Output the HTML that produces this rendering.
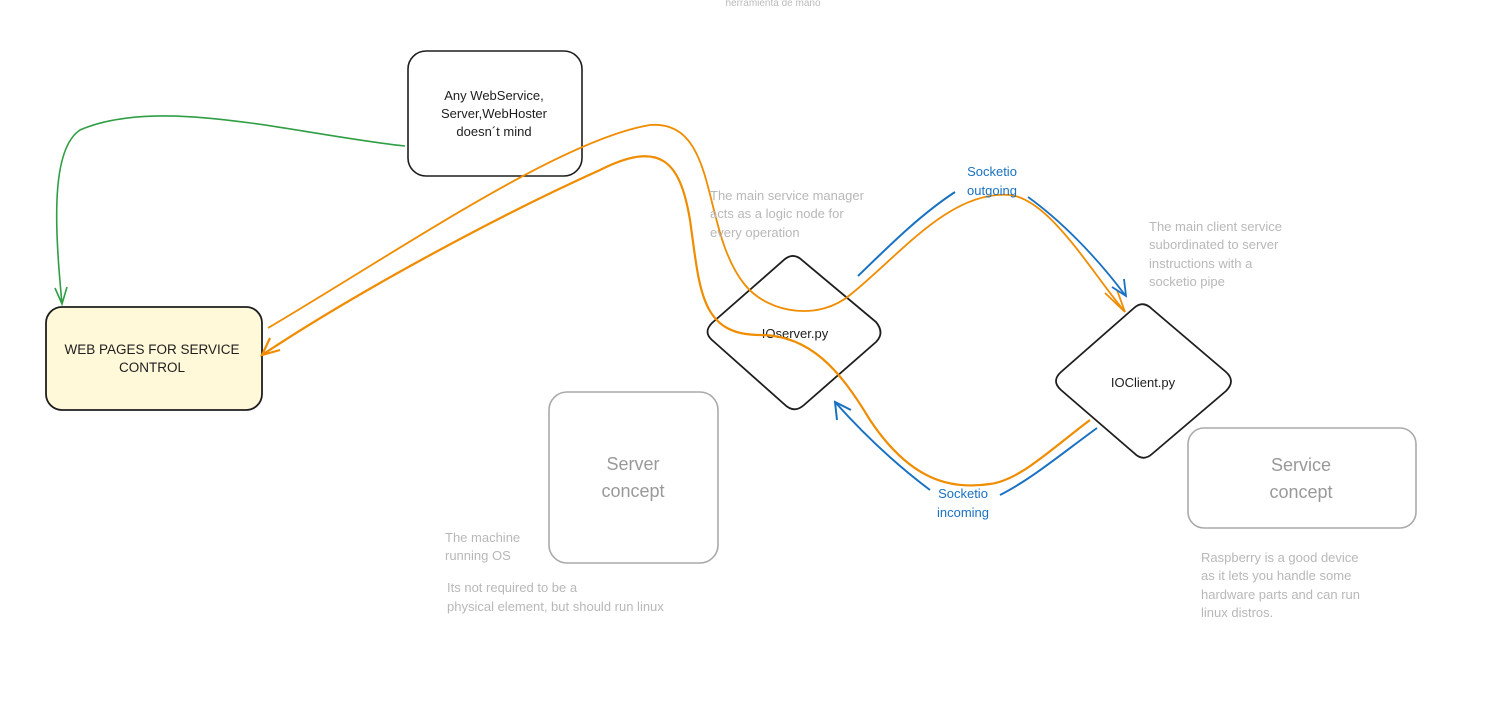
<!DOCTYPE html>
<html><head><meta charset="utf-8"><style>
body{margin:0;background:#fff;width:1494px;height:716px;overflow:hidden;font-family:"Liberation Sans",sans-serif}
svg{position:absolute;left:0;top:0}
text{font-family:"Liberation Sans",sans-serif}
</style></head><body>
<svg width="1494" height="716" viewBox="0 0 1494 716">
<text x="773" y="6" font-size="10" fill="#bbb" text-anchor="middle">herramienta de mano</text>
<!-- boxes -->
<rect x="408" y="51" width="174" height="125" rx="18" fill="#fff" stroke="#1e1e1e" stroke-width="1.6"/>
<text text-anchor="middle" font-size="13" fill="#1e1e1e"><tspan x="494" y="100">Any WebService,</tspan><tspan x="494" y="118">Server,WebHoster</tspan><tspan x="494" y="136">doesn´t mind</tspan></text>
<rect x="46" y="307" width="216" height="103" rx="16" fill="#fff8d9" stroke="#1e1e1e" stroke-width="1.8"/>
<text text-anchor="middle" font-size="13.5" fill="#1e1e1e"><tspan x="152" y="354">WEB PAGES FOR SERVICE</tspan><tspan x="152" y="372">CONTROL</tspan></text>
<rect x="549" y="392" width="169" height="171" rx="18" fill="none" stroke="#aaa" stroke-width="1.6"/>
<text text-anchor="middle" font-size="18" fill="#999"><tspan x="633" y="470">Server</tspan><tspan x="633" y="497">concept</tspan></text>
<rect x="1188" y="428" width="228" height="100" rx="16" fill="none" stroke="#aaa" stroke-width="1.6"/>
<text text-anchor="middle" font-size="18" fill="#999"><tspan x="1301" y="471">Service</tspan><tspan x="1301" y="498">concept</tspan></text>
<!-- diamonds -->
<path d="M785 259 Q794 252 803 261 L876 322 Q885 333 876 342 L804 405 Q794 414 784 404 L712 340 Q703 332 712 323 Z" fill="none" stroke="#1e1e1e" stroke-width="1.8"/>
<text x="795" y="338" font-size="13" text-anchor="middle" fill="#1e1e1e">IOserver.py</text>
<path d="M1134 308 Q1143 300 1152 309 L1226 372 Q1236 381 1226 391 L1152 454 Q1143 462 1134 453 L1061 390 Q1051 381 1061 372 Z" fill="none" stroke="#1e1e1e" stroke-width="1.8"/>
<text x="1143" y="387" font-size="13" text-anchor="middle" fill="#1e1e1e">IOClient.py</text>
<!-- green -->
<path d="M405 146 C300 135 160 95 80 130 C50 150 55 230 62 304" fill="none" stroke="#2f9e44" stroke-width="1.6"/>
<path d="M55 288 L62 304 L67 287" fill="none" stroke="#2f9e44" stroke-width="1.6"/>
<!-- orange -->
<path d="M268 328 C400 250 560 140 650 125 C720 120 700 230 745 285 C770 315 820 320 850 295 C900 255 950 190 1010 195 C1050 200 1090 270 1125 312" fill="none" stroke="#f08c00" stroke-width="1.8"/>
<path d="M1105 293 L1125 312 L1117 290" fill="none" stroke="#f08c00" stroke-width="1.8"/>
<path d="M1090 420 C1050 450 1020 480 990 484 C950 490 910 480 870 420 C840 370 810 335 760 335 C700 335 700 290 690 220 C680 160 660 140 600 170 C500 215 360 290 262 355" fill="none" stroke="#f08c00" stroke-width="2.2"/>
<path d="M270 338 L262 355 L280 350" fill="none" stroke="#f08c00" stroke-width="2.2"/>
<!-- blue -->
<path d="M858 276 C890 245 920 215 955 192" fill="none" stroke="#1971c2" stroke-width="2"/>
<path d="M1028 197 C1060 220 1095 255 1125 295" fill="none" stroke="#1971c2" stroke-width="1.8"/>
<path d="M1112 287 L1126 296 L1124 279" fill="none" stroke="#1971c2" stroke-width="1.8"/>
<path d="M1097 428 C1060 455 1030 480 1000 495" fill="none" stroke="#1971c2" stroke-width="2"/>
<path d="M930 490 C890 460 860 430 835 402" fill="none" stroke="#1971c2" stroke-width="2"/>
<path d="M837 420 L835 402 L851 410" fill="none" stroke="#1971c2" stroke-width="2"/>
<text text-anchor="middle" font-size="13" fill="#1971c2"><tspan x="992" y="176">Socketio</tspan><tspan x="992" y="195">outgoing</tspan></text>
<text text-anchor="middle" font-size="13" fill="#1971c2"><tspan x="963" y="498">Socketio</tspan><tspan x="963" y="517">incoming</tspan></text>
<!-- notes -->
<g font-size="13" fill="#b8b8b8">
<text><tspan x="710" y="200">The main service manager</tspan><tspan x="710" y="218">acts as a logic node for</tspan><tspan x="710" y="237">every operation</tspan></text>
<text><tspan x="1149" y="231">The main client service</tspan><tspan x="1149" y="249">subordinated to server</tspan><tspan x="1149" y="268">instructions with a</tspan><tspan x="1149" y="286">socketio pipe</tspan></text>
<text><tspan x="445" y="542">The machine</tspan><tspan x="445" y="560">running OS</tspan></text>
<text><tspan x="447" y="592">Its not required to be a</tspan><tspan x="447" y="611">physical element, but should run linux</tspan></text>
<text><tspan x="1201" y="562">Raspberry is a good device</tspan><tspan x="1201" y="580">as it lets you handle some</tspan><tspan x="1201" y="599">hardware parts and can run</tspan><tspan x="1201" y="617">linux distros.</tspan></text>
</g>
</svg>
</body></html>
